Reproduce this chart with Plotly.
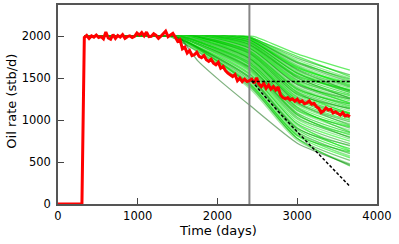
import plotly.graph_objects as go

# ---- observed oil rate (red) ----
obs_time = list(range(0, 3661, 30))
obs_rate = [0]*11 + [
    1985, 2010, 1975, 2005, 1990, 2015, 1985, 1995, 1970, 2050,
    1980, 1965, 2020, 1975, 2010, 1990, 2020, 1975, 1995, 2005,
    1985, 2000, 2040, 2015, 2045, 2005, 2050, 1995, 2000, 2030,
    2010, 1975, 2000, 2030, 2060, 1995, 2015, 2035, 1990, 1940,
    1960, 1850, 1870, 1800, 1830, 1770, 1780, 1810, 1760, 1745,
    1770, 1720, 1700, 1725, 1680, 1660, 1690, 1620, 1640, 1590,
    1560, 1545, 1520, 1545, 1470, 1500, 1460, 1490, 1460, 1470,
    1490, 1440, 1505, 1430, 1400, 1440, 1380, 1420, 1370, 1400,
    1360, 1395, 1300, 1270, 1255, 1270, 1240, 1255, 1225, 1250,
    1215, 1230, 1195, 1205, 1230, 1190, 1200, 1160, 1140, 1090,
    1110, 1145, 1120, 1130, 1085, 1100, 1075, 1060, 1090, 1050,
    1060, 1040]

# ---- ensemble members (green): onset of decline, rate at 2400, 3000, 3660 days ----
ens_onset = [2450, 2350, 2300, 2250, 2200, 2200, 2150, 2100, 2100, 2050,
             2000, 2000, 1950, 1950, 1900, 1900, 1850, 1850, 1800, 1800,
             1750, 1750, 1700, 1700, 1700, 1650, 1650, 1650, 1600, 1600,
             1600, 1550, 1550, 1550, 1550, 1500, 1500, 1500, 1500, 1500,
             1450, 1450, 1450, 1450, 1450, 1400, 1400, 1450, 1500,
             2350, 2250, 2200, 2150, 2100, 2050, 2000, 1950, 1900, 1900,
             1850, 1800, 1800, 1750, 1700, 1700, 1650, 1650, 1600, 1600,
             1550, 1550, 1500, 1500, 1450, 1450, 1400, 1450]
ens_v2400 = [2000, 1995, 1990, 1985, 1975, 1970, 1960, 1955, 1950, 1940,
             1930, 1925, 1915, 1905, 1895, 1885, 1875, 1860, 1850, 1840,
             1830, 1815, 1800, 1790, 1780, 1765, 1750, 1740, 1725, 1710,
             1700, 1685, 1670, 1655, 1640, 1625, 1610, 1595, 1580, 1560,
             1540, 1520, 1500, 1480, 1455, 1430, 1400, 1380, 1420,
             1990, 1980, 1970, 1965, 1950, 1945, 1935, 1920, 1900, 1890,
             1870, 1860, 1845, 1825, 1810, 1795, 1770, 1755, 1735, 1720,
             1690, 1665, 1630, 1600, 1550, 1510, 1470, 1440]
ens_v3000 = [1790, 1740, 1720, 1700, 1680, 1660, 1640, 1630, 1610, 1590,
             1570, 1555, 1540, 1520, 1500, 1480, 1460, 1440, 1420, 1400,
             1380, 1360, 1340, 1320, 1300, 1280, 1260, 1240, 1220, 1200,
             1180, 1160, 1135, 1110, 1085, 1060, 1035, 1010, 985, 960,
             935, 910, 885, 860, 835, 810, 785, 760, 780,
             1760, 1690, 1650, 1620, 1600, 1580, 1560, 1530, 1510, 1470,
             1450, 1430, 1390, 1370, 1330, 1310, 1270, 1250, 1210, 1190,
             1150, 1120, 1070, 1020, 950, 900, 850, 820]
ens_v3660 = [1595, 1540, 1500, 1470, 1455, 1440, 1420, 1410, 1395, 1380,
             1360, 1345, 1330, 1310, 1290, 1270, 1250, 1230, 1210, 1190,
             1170, 1150, 1130, 1110, 1090, 1070, 1050, 1025, 1000, 980,
             955, 930, 905, 880, 850, 825, 800, 775, 750, 720,
             690, 660, 630, 600, 575, 550, 520, 480, 455,
             1520, 1490, 1400, 1440, 1350, 1420, 1330, 1360, 1260, 1300,
             1200, 1250, 1160, 1190, 1080, 1140, 1020, 1080, 940, 1000,
             860, 920, 790, 840, 640, 700, 560, 620]

# ---- early-declining member (dark green) ----
dark_time = [330, 1450, 1550, 1750, 2000, 2400, 3000, 3660]
dark_rate = [2000, 2000, 1960, 1710, 1495, 1180, 725, 470]

# ---- forecast bounds (black dashed) ----
hi_time = [2430, 3660]
hi_rate = [1460, 1460]
lo_time = [2430, 2550, 2750, 3000, 3660]
lo_rate = [1470, 1330, 1115, 860, 210]

update_time = 2400
start_time = 330
plateau = 2000
y_top = 2373

greens = ['rgba(0,225,0,0.6)', 'rgba(0,170,0,0.55)', 'rgba(60,220,60,0.55)',
          'rgba(0,245,0,0.55)', 'rgba(0,150,0,0.5)', 'rgba(100,225,100,0.6)',
          'rgba(0,200,0,0.6)']

fig = go.Figure()
for i in range(len(ens_onset)):
    t = [start_time, ens_onset[i] - 100, ens_onset[i]]
    v = [plateau, plateau, plateau]
    if ens_onset[i] < update_time:
        t.append(update_time)
        v.append(ens_v2400[i])
    t += [3000, 3660]
    v += [ens_v3000[i], ens_v3660[i]]
    fig.add_trace(go.Scatter(x=t, y=v, mode='lines',
                             line=dict(color=greens[i % len(greens)], width=1.3,
                                       shape='spline', smoothing=0.7),
                             hoverinfo='skip', showlegend=False))

fig.add_trace(go.Scatter(x=dark_time, y=dark_rate, mode='lines',
                         line=dict(color='rgba(0,100,0,0.5)', width=1.3,
                                   shape='spline', smoothing=0.5),
                         showlegend=False))

fig.add_trace(go.Scatter(x=[update_time, update_time], y=[0, y_top], mode='lines',
                         line=dict(color='#858585', width=2), showlegend=False))

fig.add_trace(go.Scatter(x=obs_time, y=obs_rate, mode='lines',
                         line=dict(color='#ff0000', width=3), showlegend=False))

for tt, vv in [(hi_time, hi_rate), (lo_time, lo_rate)]:
    fig.add_trace(go.Scatter(x=tt, y=vv, mode='lines',
                             line=dict(color='black', width=1.5, dash='3px,2px'),
                             showlegend=False))

font = dict(family='DejaVu Sans', size=11.5, color='black')
title_font = dict(family='DejaVu Sans', size=13, color='black')
axis_common = dict(showgrid=False, zeroline=False, showline=True, mirror=True,
                   linecolor='#555555', linewidth=1.5, automargin=False,
                   tickfont=font, ticks='inside', ticklen=6,
                   tickcolor='#444444', tickwidth=1)

fig.update_layout(
    width=399, height=244,
    margin=dict(l=58, r=22, t=5, b=40),
    paper_bgcolor='white', plot_bgcolor='white',
    xaxis=dict(range=[0, 4000], tickvals=[0, 1000, 2000, 3000, 4000],
               ticklabelstandoff=0, **axis_common),
    yaxis=dict(range=[0, y_top], tickvals=[0, 500, 1000, 1500, 2000],
               ticklabelstandoff=3, **axis_common),
    annotations=[
        dict(text='Time (days)', x=0.5, xref='paper', y=(204 - 231) / 199.3, yref='paper',
             showarrow=False, font=title_font, xanchor='center', yanchor='middle'),
        dict(text='Oil rate (stb/d)', x=(12 - 58) / 319.0, xref='paper', y=(204 - 101.5) / 199.3,
             yref='paper', showarrow=False, font=title_font, textangle=-90,
             xanchor='center', yanchor='middle'),
    ],
)

fig.write_html("out.html", config={'displayModeBar': False},
               post_script="document.body.style.margin='0px';")
